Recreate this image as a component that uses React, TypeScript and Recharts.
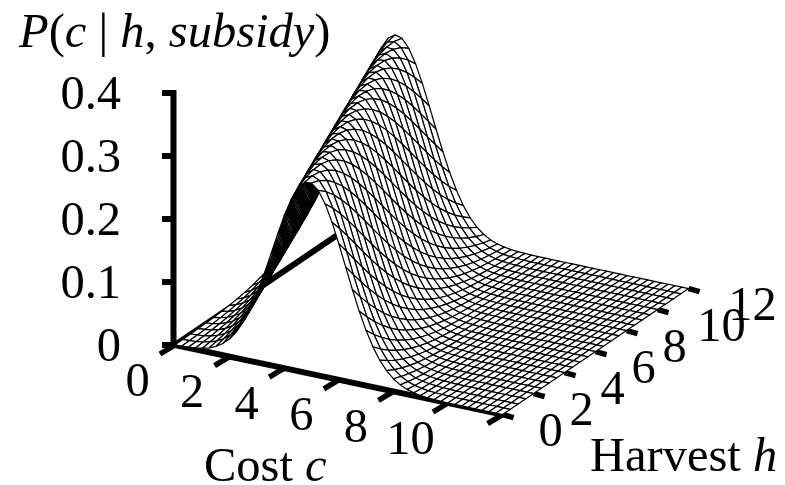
import React from "react";
import { ScatterChart, Scatter, XAxis, YAxis } from "recharts";

const W = 785;
const H = 485;

// Axis ticks
const densityTicks = [0, 0.1, 0.2, 0.3, 0.4];
const densityLabels = ["0", "0.1", "0.2", "0.3", "0.4"];
const costTicks = [0, 2, 4, 6, 8, 10, 12];
const costLabels = ["0", "2", "4", "6", "8", "10"];
const harvestTicks = [0, 2, 4, 6, 8, 10, 12];
const harvestLabels = ["0", "2", "4", "6", "8", "10", "12"];

// Mesh lines
const costGrid = [
  0, 0.25, 0.5, 0.75, 1, 1.25, 1.5, 1.75, 2, 2.25, 2.5, 2.75, 3, 3.25, 3.5, 3.75, 4, 4.25, 4.5, 4.75, 5, 5.25, 5.5, 5.75, 6,
  6.25, 6.5, 6.75, 7, 7.25, 7.5, 7.75, 8, 8.25, 8.5, 8.75, 9, 9.25, 9.5, 9.75, 10, 10.25, 10.5, 10.75, 11, 11.25, 11.5, 11.75, 12,
];
const harvestGrid = [
  0, 0.5, 1, 1.5, 2, 2.5, 3, 3.5, 4, 4.5, 5, 5.5, 6, 6.5, 7, 7.5, 8, 8.5, 9, 9.5, 10, 10.5, 11, 11.5, 12,
];
// Cost at the crest of the ridge, one per harvest mesh line
const ridgeCost = [
  4.9, 4.75, 4.6, 4.45, 4.3, 4.15, 4.0, 3.85, 3.7, 3.55, 3.4, 3.25, 3.1, 2.95, 2.8, 2.65, 2.5, 2.35, 2.2, 2.05, 1.9, 1.75, 1.6, 1.45, 1.3,
];
// Height of the ridge profile read at distances 0, 0.05, 0.10 ... 5.00 from the crest
const profileStep = 0.05;
const ridgeProfile = [
  0.304, 0.3038, 0.3031, 0.3021, 0.3006, 0.2987, 0.2964, 0.2937, 0.2906, 0.2871,
  0.2833, 0.2791, 0.2746, 0.2698, 0.2647, 0.2593, 0.2537, 0.2479, 0.2418, 0.2356,
  0.2292, 0.2226, 0.2159, 0.2092, 0.2024, 0.1955, 0.1886, 0.1816, 0.1747, 0.1678,
  0.161, 0.1542, 0.1475, 0.1408, 0.1343, 0.1279, 0.1217, 0.1156, 0.1096, 0.1038,
  0.0981, 0.0927, 0.0874, 0.0823, 0.0774, 0.0727, 0.0682, 0.0638, 0.0597, 0.0557,
  0.052, 0.0484, 0.045, 0.0418, 0.0387, 0.0359, 0.0332, 0.0306, 0.0282, 0.026,
  0.0239, 0.0219, 0.0201, 0.0184, 0.0168, 0.0154, 0.014, 0.0127, 0.0116, 0.0105,
  0.0095, 0.0086, 0.0078, 0.007, 0.0063, 0.0057, 0.0051, 0.0046, 0.0041, 0.0037,
  0.0033, 0.0029, 0.0026, 0.0023, 0.0021, 0.0018, 0.0016, 0.0015, 0.0013, 0.0011,
  0.001, 0.0009, 0.0008, 0.0007, 0.0006, 0.0005, 0.0004, 0.0004, 0.0003, 0.0003, 0.0003,
];

const SERIF = "'Liberation Serif', 'Times New Roman', serif";
const FONT = 48.5;

// Oblique projection of (cost, harvest, density) onto the chart plane
const project = (c: number, h: number, p: number) => ({
  px: 175 + 27.3 * c + 15.5 * h,
  py: 345 + 5.8 * c - 10.5 * h - 630 * p,
});

const surface = harvestGrid.map((_, r) =>
  costGrid.map((c) => {
    const i = Math.round(Math.abs(c - ridgeCost[r]) / profileStep);
    return i < ridgeProfile.length ? ridgeProfile[i] : 0;
  })
);

// Far-to-near order: back harvest line first, low cost first
type Cell = { px: number; py: number; pts: string };
const cells: Cell[] = [];
for (let r = harvestGrid.length - 1; r > 0; r--) {
  for (let k = 0; k < costGrid.length - 1; k++) {
    const a = project(costGrid[k], harvestGrid[r], surface[r][k]);
    const b = project(costGrid[k + 1], harvestGrid[r], surface[r][k + 1]);
    const d = project(costGrid[k + 1], harvestGrid[r - 1], surface[r - 1][k + 1]);
    const e = project(costGrid[k], harvestGrid[r - 1], surface[r - 1][k]);
    const pts = [a, b, d, e].map((q) => `${q.px - a.px},${q.py - a.py}`).join(" ");
    cells.push({ px: a.px, py: a.py, pts });
  }
}

const CellShape = (props: any) => (
  <polygon
    transform={`translate(${props.cx},${props.cy})`}
    points={props.payload.pts}
    fill="#fff"
    stroke="#000"
    strokeWidth={1.2}
    strokeLinejoin="round"
  />
);

const TextShape = (props: any) => (
  <text x={props.cx} y={props.cy} fontFamily={SERIF} fontSize={FONT} fill="#000" textAnchor={props.payload.anchor}>
    {props.payload.label}
  </text>
);
const TitleShape = (props: any) => (
  <text x={props.cx} y={props.cy} fontFamily={SERIF} fontSize={FONT} fill="#000">
    {props.payload.parts.map((s: any, i: number) => (
      <tspan key={i} fontStyle={s[1] ? "italic" : "normal"}>{s[0]}</tspan>
    ))}
  </text>
);
const NoDot = () => null;

const shift = (q: { px: number; py: number }, dx: number, dy: number) => ({ px: q.px + dx, py: q.py + dy });

const segments: { data: { px: number; py: number }[]; w: number }[] = [
  { data: [project(0, 0, 0), project(0, 12, 0)], w: 6 },
  { data: [project(0, 0, 0), shift(project(12, 0, 0), 0, 0)], w: 6 },
  { data: [shift(project(0, 0, 0), -1.5, 0), shift(project(0, 0, 0.4), -1.5, -3)], w: 6 },
  ...densityTicks.map((d) => ({ data: [shift(project(0, 0, d), -1.5, 0), shift(project(0, 0, d), -13, 0)], w: 6 })),
  ...costTicks.map((c) => ({ data: [project(c, 0, 0), shift(project(c, 0, 0), -15, 9)], w: 5.5 })),
  ...harvestTicks.map((h) => ({ data: [project(12, h, 0), shift(project(12, h, 0), 11, 3)], w: 5.5 })),
];

const labelData = [
  ...densityTicks.map((d, i) => ({ ...shift(project(0, 0, d), -54, 16), label: densityLabels[i], anchor: "end" })),
  ...costLabels.map((l, i) => ({ ...shift(project(costTicks[i], 0, 0), -37.5, 50.5), label: l, anchor: "middle" })),
  ...harvestLabels.map((l, i) => ({
    ...shift(project(12, harvestTicks[i], 0), l.length > 1 ? 64 : 48, 31.5),
    label: l,
    anchor: "middle",
  })),
  { px: 204, py: 481, label: <>Cost <tspan fontStyle="italic">c</tspan></>, anchor: "start" },
  { px: 590, py: 471, label: <>Harvest <tspan fontStyle="italic">h</tspan></>, anchor: "start" },
];
const titleParts = [["P", 1], ["(", 0], ["c", 1], [" | ", 0], ["h", 1], [", ", 0], ["subsidy", 1], [")", 0]];

export default function App() {
  return (
    <div style={{ position: "absolute", left: 0, top: 0, width: W, height: H, background: "#fff" }}>
      <ScatterChart width={W} height={H} margin={{ top: 0, right: 0, bottom: 0, left: 0 }}>
        <XAxis type="number" dataKey="px" domain={[0, W]} hide allowDataOverflow />
        <YAxis type="number" dataKey="py" domain={[0, H]} reversed hide allowDataOverflow />
        {segments.map((s, i) => (
          <Scatter
            key={i}
            data={s.data}
            line={{ stroke: "#000", strokeWidth: s.w }}
            shape={NoDot}
            isAnimationActive={false}
          />
        ))}
        <Scatter data={cells} shape={CellShape} isAnimationActive={false} />
        <Scatter data={labelData} shape={TextShape} isAnimationActive={false} />
        <Scatter data={[{ px: 19, py: 47, parts: titleParts }]} shape={TitleShape} isAnimationActive={false} />
      </ScatterChart>
    </div>
  );
}
